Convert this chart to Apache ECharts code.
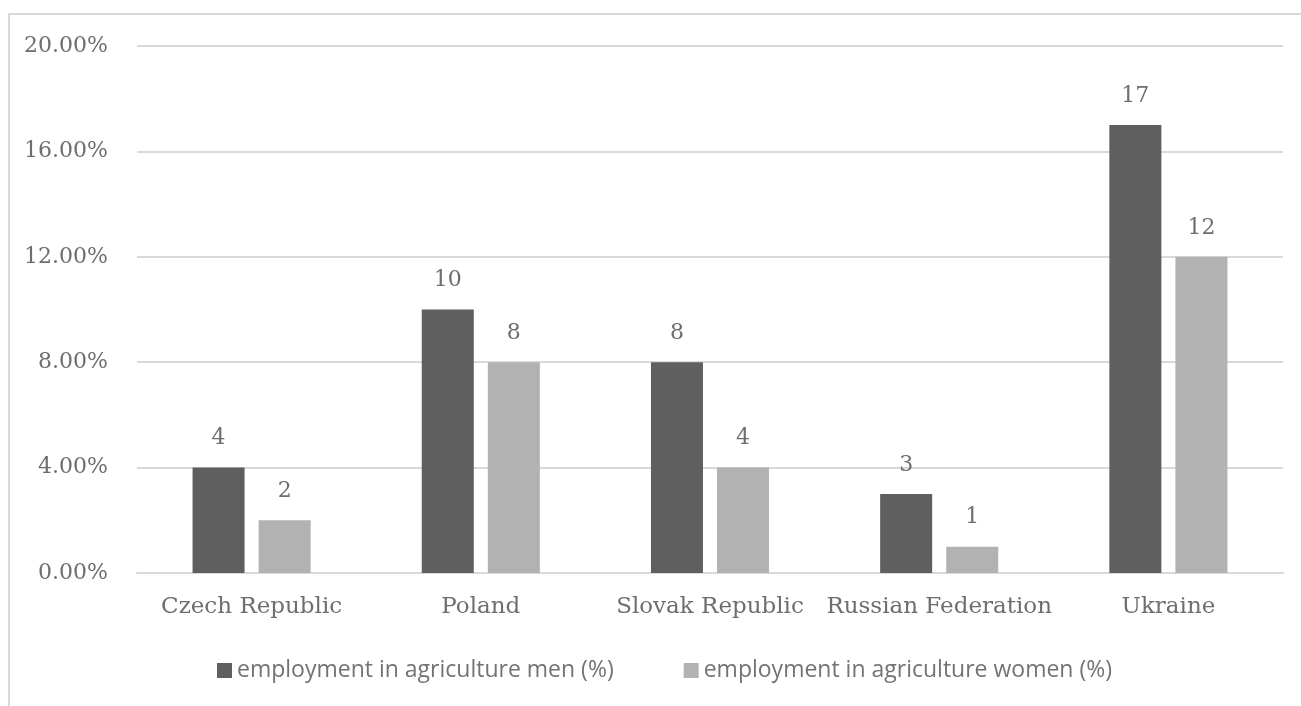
<!DOCTYPE html>
<html>
<head>
<meta charset="utf-8">
<script src="https://cdn.jsdelivr.net/npm/echarts@6/dist/echarts.min.js"></script>
<style>
  html, body { margin: 0; padding: 0; background: #fff; }
  #chart { width: 1301px; height: 706px; }
</style>
</head>
<body>
<div id="chart"></div>
<script>
// chart data
const countries = ["Czech Republic", "Poland", "Slovak Republic", "Russian Federation", "Ukraine"];
const menValues = [4, 10, 8, 3, 17];
const womenValues = [2, 8, 4, 1, 12];
const seriesNames = ["employment in agriculture men (%)", "employment in agriculture women (%)"];

var myChart = echarts.init(document.getElementById("chart"));

const serif = "'DejaVu Serif', serif";
const textGray = "#6e6e6e";
const labelStyle = {
  show: true,
  position: "top",
  distance: 18,
  color: textGray,
  fontSize: 22,
  fontFamily: serif
};

myChart.setOption({
  animation: false,
  graphic: [{
    type: "rect",
    shape: { x: 9, y: 14, width: 1400, height: 800 },
    style: { fill: "none", stroke: "#d9d9d9", lineWidth: 2 },
    silent: true
  }],
  grid: {
    left: 137,
    right: 18,
    top: 46,
    bottom: 133
  },
  legend: {
    bottom: 19,
    left: 212,
    icon: "rect",
    itemWidth: 15,
    itemHeight: 15,
    itemGap: 70,
    textStyle: {
      color: "#737373",
      fontSize: 23,
      fontFamily: "'Open Sans', sans-serif"
    }
  },
  xAxis: {
    type: "category",
    data: countries,
    axisLine: { lineStyle: { color: "#d9d9d9", width: 2 } },
    axisTick: { show: false },
    axisLabel: {
      color: textGray,
      fontSize: 23,
      fontFamily: serif,
      margin: 23,
      interval: 0
    }
  },
  yAxis: {
    type: "value",
    min: 0,
    max: 20,
    interval: 4,
    axisLine: { show: false },
    axisTick: { show: false },
    splitLine: { lineStyle: { color: "#d9d9d9", width: 2 } },
    axisLabel: {
      color: textGray,
      fontSize: 22,
      fontFamily: serif,
      margin: 29,
      formatter: (value) => value.toFixed(2) + "%"
    }
  },
  series: [
    {
      name: seriesNames[0],
      type: "bar",
      data: menValues,
      barWidth: "22.7%",
      barGap: "27%",
      itemStyle: { color: "#5f5f5f" },
      label: labelStyle
    },
    {
      name: seriesNames[1],
      type: "bar",
      data: womenValues,
      barWidth: "22.7%",
      itemStyle: { color: "#b2b2b2" },
      label: labelStyle
    }
  ]
});
</script>
</body>
</html>
